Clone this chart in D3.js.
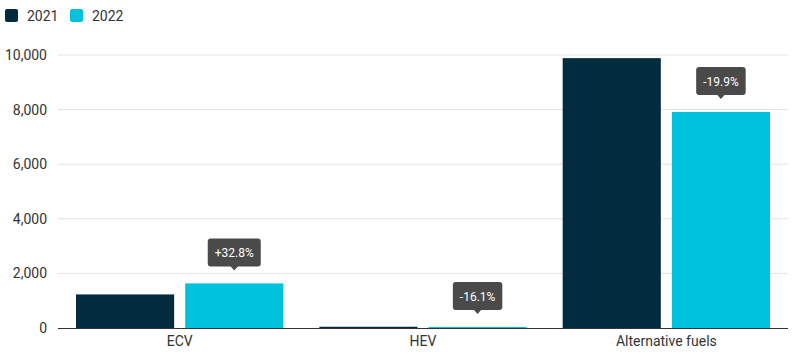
<!DOCTYPE html>
<html><head><meta charset="utf-8">
<script src="https://cdn.jsdelivr.net/npm/d3@7"></script>
<style>body{margin:0;background:#fff;} svg{display:block;font-family:Roboto,"Noto Sans",sans-serif;}</style>
</head><body><svg id="c" width="797" height="362"></svg>
<script>
const categories = ["ECV", "HEV", "Alternative fuels"];
const seriesNames = ["2021", "2022"];
const values2021 = [1230, 45, 9885];
const values2022 = [1634, 38, 7915];
const changeLabels = ["+32.8%", "-16.1%", "-19.9%"];
const yTicks = [0, 2000, 4000, 6000, 8000, 10000];
const colors = ["#022b40", "#00c2dc"];

const svg = d3.select("#c");
const x0 = d3.scaleBand().domain(categories).range([58, 788]).paddingInner(0.148).paddingOuter(0.074);
const x1 = d3.scaleBand().domain(seriesNames).range([0, x0.bandwidth()]).paddingInner(0.101);
const y = d3.scaleLinear().domain([0, 10000]).range([328, 55]);

// grid
svg.append("g").selectAll("line").data(yTicks.filter(d => d > 0)).join("line")
  .attr("x1", 58).attr("x2", 788).attr("y1", d => y(d)).attr("y2", d => y(d))
  .attr("stroke", "#e3e3e3").attr("stroke-width", 1);

// y axis labels
const yAxis = d3.axisLeft(y).tickValues(yTicks).tickFormat(d3.format(",")).tickSize(0).tickPadding(0);
const ya = svg.append("g").attr("transform", "translate(47,0)").call(yAxis);
ya.select(".domain").remove();
ya.selectAll("text").attr("font-size", 14).attr("fill", "#333").attr("font-family", "Roboto");

// bars
const data = categories.map((c, i) => ({c, vals: [values2021[i], values2022[i]], label: changeLabels[i]}));
const groups = svg.append("g").selectAll("g").data(data).join("g")
  .attr("transform", d => `translate(${x0(d.c)},0)`);
groups.selectAll("rect").data(d => d.vals.map((v, j) => ({s: seriesNames[j], v, j}))).join("rect")
  .attr("x", d => x1(d.s)).attr("width", x1.bandwidth())
  .attr("y", d => y(d.v)).attr("height", d => y(0) - y(d.v))
  .attr("fill", d => colors[d.j]);

// baseline
svg.append("line").attr("x1", 58).attr("x2", 788).attr("y1", y(0) + 0.5).attr("y2", y(0) + 0.5)
  .attr("stroke", "#333").attr("stroke-width", 1.2);

// x axis labels
const xAxis = d3.axisBottom(x0).tickSize(0).tickPadding(0);
const xa = svg.append("g").attr("transform", "translate(0,336)").call(xAxis);
xa.select(".domain").remove();
xa.selectAll("text").attr("font-size", 14).attr("fill", "#333").attr("font-family", "Roboto").attr("dy", "0.71em");

// tooltips
const tips = svg.append("g").selectAll("g").data(data).join("g")
  .attr("transform", d => `translate(${x0(d.c) + x1("2022") + x1.bandwidth() / 2},${y(d.vals[1])})`);
tips.each(function(d) {
  const g = d3.select(this);
  const t = g.append("text").text(d.label).attr("font-size", 12).attr("fill", "#fff")
    .attr("text-anchor", "middle").attr("y", -26).attr("font-family", "Roboto");
  const w = t.node().getComputedTextLength() + 14;
  g.insert("rect", "text").attr("x", -w / 2).attr("y", -45).attr("width", w).attr("height", 28)
    .attr("rx", 3).attr("fill", "#4a4a4a");
  g.insert("path", "text").attr("d", "M-4,-17.5L0,-13L4,-17.5Z").attr("fill", "#4a4a4a");
});

// legend
const leg = svg.append("g").selectAll("g").data(seriesNames).join("g")
  .attr("transform", (d, i) => `translate(${5 + i * 65},9)`);
leg.append("rect").attr("width", 13).attr("height", 13).attr("rx", 2).attr("fill", (d, i) => colors[i]);
leg.append("text").attr("x", 22).attr("y", 12).text(d => d).attr("font-size", 14).attr("fill", "#333");
</script></body></html>
